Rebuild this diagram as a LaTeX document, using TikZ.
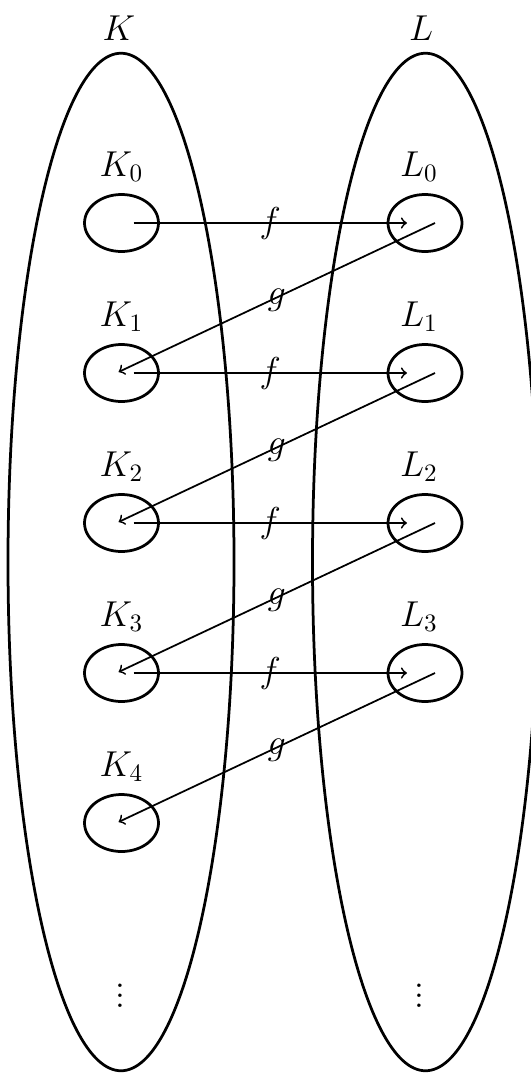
\documentclass[tikz,border=0pt]{standalone}
\usetikzlibrary{shapes.geometric,calc}
\begin{document}
\begin{tikzpicture}[x=0.4pt,y=-0.4pt,font=\Large,
  bigset/.style={ellipse,draw,line width=1.1pt,inner sep=0pt,minimum width=90.4pt,minimum height=407pt},
  subset/.style={ellipse,draw,line width=1.1pt,inner sep=0pt,minimum width=29.6pt,minimum height=22.8pt},
  lab/.style={anchor=base,inner sep=0pt},
  map/.style={->,line width=0.7pt}]
\useasboundingbox (0,0) rectangle (531,1073);
\clip (0,0) rectangle (531,1073);
\node[bigset] (K) at (121,562) {};
\node[bigset] (L) at (425.5,562) {};
\node[lab] (Klab) at (119,40) {$K$};
\node[lab] (Llab) at (421,40) {$L$};
\foreach \i in {0,...,4}{
  \node[subset] (k\i) at (121.5,223+150*\i) {};
  \node[lab] (kl\i) at (121.5,176+150*\i) {$K_{\i}$};
}
\foreach \i in {0,...,3}{
  \node[subset] (l\i) at (425,223+150*\i) {};
  \node[lab] (ll\i) at (419,176+150*\i) {$L_{\i}$};
}
\foreach \i [evaluate=\i as \j using int(\i+1)] in {0,...,3}{
  \draw[map] ($(k\i.center)+(12,0)$) -- node[inner sep=0pt] {$f$} ($(l\i.center)+(-18,0)$);
  \draw[map] ($(l\i.center)+(10,0)$) -- node[inner sep=0pt,yshift=-1pt] {$g$} ($(k\j.center)+(-3,-1)$);
}
\node (kd) at (120,988) {$\vdots$};
\node (ld) at (419,988) {$\vdots$};
\end{tikzpicture}
\end{document}
